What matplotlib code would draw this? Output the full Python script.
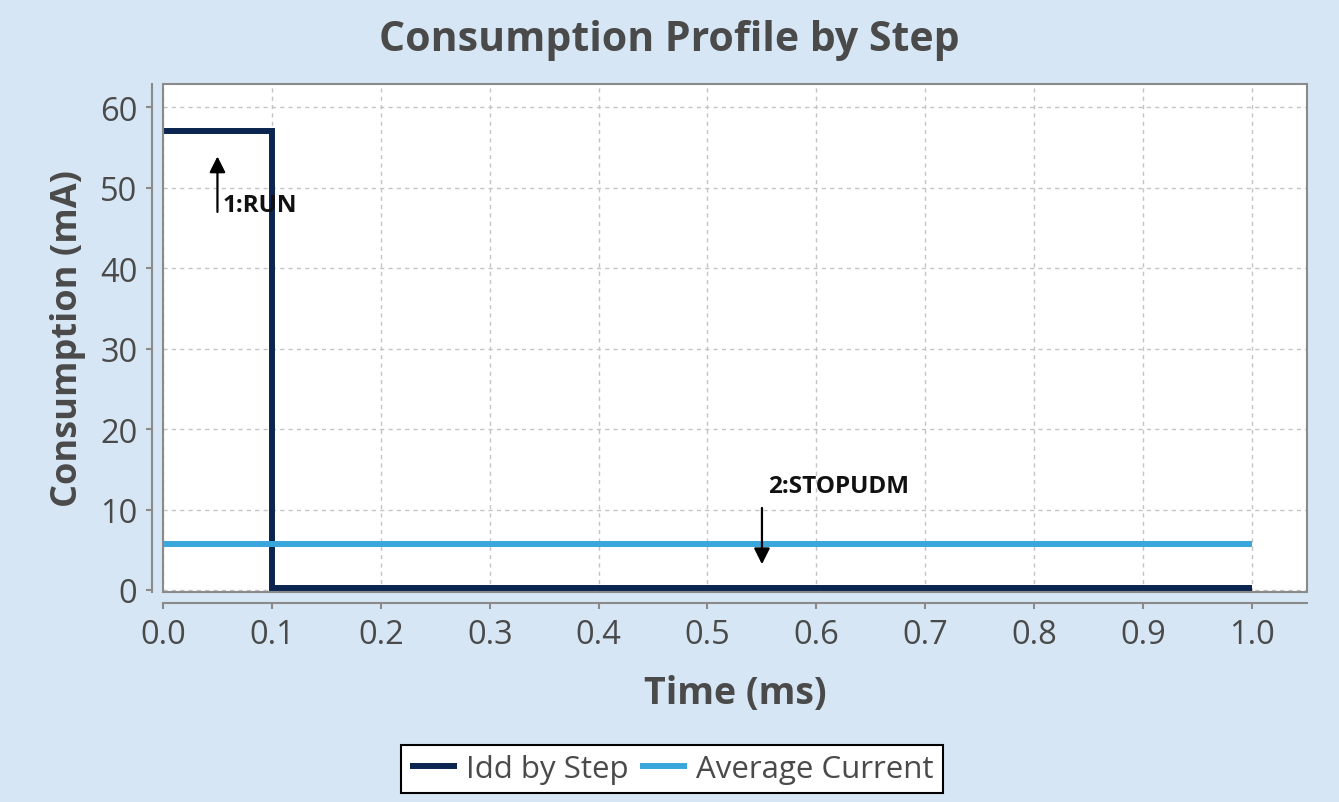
import matplotlib
matplotlib.use("Agg")
import matplotlib.pyplot as plt
from matplotlib.patches import Rectangle

plt.rcParams['font.family'] = ['Open Sans', 'DejaVu Sans']

# Data
step_times = [0.0, 0.1, 1.0]
step_values = [57.1, 0.2, 0.2]
avg_times = [0.0, 1.0]
avg_values = [5.7, 5.7]
ann_labels = ["1:RUN", "2:STOPUDM"]
ann_x = [0.05, 0.55]
xticks = [0.0, 0.1, 0.2, 0.3, 0.4, 0.5, 0.6, 0.7, 0.8, 0.9, 1.0]
yticks = [0, 10, 20, 30, 40, 50, 60]

bg = '#d6e6f4'
dark = '#0b2550'
light = '#39a7db'
grey_text = '#4a4a4a'
axis_grey = '#8a8a8a'

fig = plt.figure(figsize=(13.39, 8.03), dpi=100, facecolor=bg)
ax = fig.add_axes([0.12173, 0.26152, 0.97610 - 0.12173, 0.89415 - 0.26152])
ax.set_facecolor('white')

ax.step(step_times, step_values, where='post', color=dark, lw=4.3, label='Idd by Step',
        solid_joinstyle='miter', solid_capstyle='butt', zorder=3)
ax.plot(avg_times, avg_values, color=light, lw=4.3, label='Average Current',
        solid_capstyle='butt', zorder=3)

ax.set_xlim(0, 1.0505)
ax.set_ylim(-0.25, 62.9)
ax.set_xticks(xticks)
ax.set_xticklabels([f"{v:.1f}" for v in xticks])
ax.set_yticks(yticks)

ax.grid(True, color='#c4c4c4', linestyle=(0, (3, 3)), lw=1)
ax.set_axisbelow(True)

for s in ['top', 'right']:
    ax.spines[s].set_visible(False)
for s in ['left', 'bottom']:
    ax.spines[s].set_position(('outward', 8))
    ax.spines[s].set_color(axis_grey)
    ax.spines[s].set_linewidth(1.5)
ax.add_patch(Rectangle((0, 0), 1, 1, transform=ax.transAxes, fill=False,
                       edgecolor=axis_grey, lw=1.5, clip_on=False, zorder=5))

ax.tick_params(axis='both', colors=axis_grey, labelcolor=grey_text, labelsize=23.5,
               length=4.5, width=1.5, pad=6)

ax.set_xlabel('Time (ms)', fontsize=27, fontweight='bold', color=grey_text, labelpad=17)
ax.set_ylabel('Consumption (mA)', fontsize=26, fontweight='bold', color=grey_text, labelpad=10)
fig.suptitle('Consumption Profile by Step', fontsize=29.5, fontweight='bold',
             color=grey_text, y=0.949, va='center')

# Annotations
arrow_style = '-|>,head_length=0.6,head_width=0.3'
ax.annotate('', xy=(ann_x[0], 53.9), xytext=(ann_x[0], 47.0),
            arrowprops=dict(arrowstyle=arrow_style, color='black', lw=1.6,
                            mutation_scale=16, shrinkA=0, shrinkB=0))
ax.text(ann_x[0] + 0.005, 47.8, ann_labels[0], fontsize=17.5, fontweight='bold',
        color='#111111', ha='left', va='center')
ax.annotate('', xy=(ann_x[1], 3.2), xytext=(ann_x[1], 10.2),
            arrowprops=dict(arrowstyle=arrow_style, color='black', lw=1.6,
                            mutation_scale=16, shrinkA=0, shrinkB=0))
ax.text(ann_x[1] + 0.006, 12.9, ann_labels[1], fontsize=17.5, fontweight='bold',
        color='#111111', ha='left', va='center')

leg = fig.legend(loc='center', bbox_to_anchor=(672 / 1339, 1 - 770 / 803), ncol=2,
                 fontsize=22.5, frameon=True, fancybox=False, edgecolor='black',
                 framealpha=1, handlelength=1.5, handletextpad=0.3, columnspacing=0.35,
                 borderpad=0.3, borderaxespad=0)
leg.get_frame().set_linewidth(1.5)
for t in leg.get_texts():
    t.set_color(grey_text)

fig.savefig('out.png', dpi=100, facecolor=bg)
